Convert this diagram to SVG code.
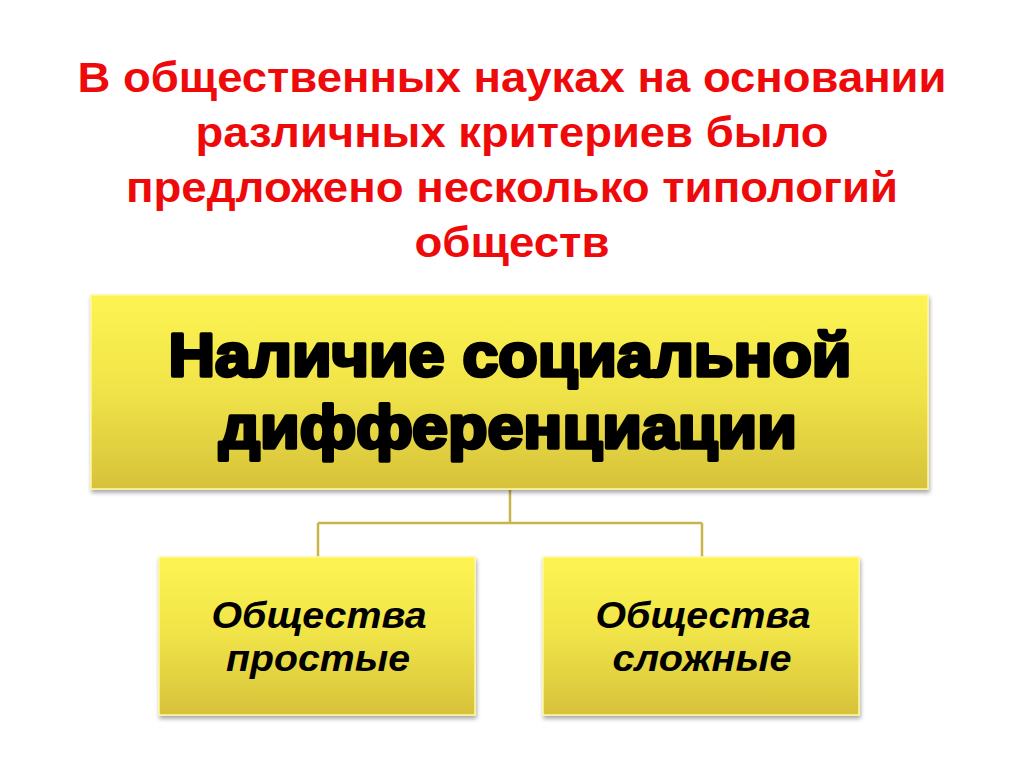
<svg xmlns="http://www.w3.org/2000/svg" width="1024" height="767" viewBox="0 0 1024 767">
  <defs>
    <linearGradient id="yel" x1="0" y1="0" x2="0" y2="1">
      <stop offset="0" stop-color="#fdf453"/>
      <stop offset="0.5" stop-color="#f0e348"/>
      <stop offset="1" stop-color="#d6c23a"/>
    </linearGradient>
    <filter id="sh" x="-5%" y="-5%" width="110%" height="115%">
      <feGaussianBlur in="SourceAlpha" stdDeviation="2"/>
      <feOffset dx="1" dy="3" result="b"/>
      <feComponentTransfer><feFuncA type="linear" slope="0.35"/></feComponentTransfer>
      <feMerge><feMergeNode/><feMergeNode in="SourceGraphic"/></feMerge>
    </filter>
  </defs>
  <style>
    .title { font-family: "Liberation Sans", Arial, sans-serif; font-weight: bold; font-size: 42px; fill: #ee0a0a; text-anchor: middle; }
    .box { fill: url(#yel); stroke: #fff7a0; stroke-width: 1.5; filter: url(#sh); }
    .main { font-family: "Liberation Sans", Arial, sans-serif; font-weight: bold; font-size: 61px; fill: #000; stroke: #000; stroke-width: 3.5; stroke-linejoin: round; text-anchor: middle; }
    .sub { font-family: "Liberation Sans", Arial, sans-serif; font-weight: bold; font-style: italic; font-size: 36px; fill: #000; text-anchor: middle; }
    .conn { fill: none; stroke: #c9b44a; stroke-width: 2.5; }
  </style>
  <rect width="1024" height="767" fill="#ffffff"/>
  <g id="title">
    <text class="title" x="512" y="92" textLength="869" lengthAdjust="spacingAndGlyphs">В общественных науках на основании</text>
    <text class="title" x="512" y="147" textLength="633" lengthAdjust="spacingAndGlyphs">различных критериев было</text>
    <text class="title" x="512" y="202" textLength="772" lengthAdjust="spacingAndGlyphs">предложено несколько типологий</text>
    <text class="title" x="512" y="257" textLength="195" lengthAdjust="spacingAndGlyphs">обществ</text>
  </g>
  <g id="connectors">
    <path class="conn" d="M510 490 V523 M318 523 H702 M318 523 V557 M702 523 V557"/>
  </g>
  <g id="node-main">
    <rect class="box" x="91" y="295" width="837" height="194"/>
    <text class="main" x="510" y="376" textLength="683" lengthAdjust="spacingAndGlyphs">Наличие социальной</text>
    <text class="main" x="508" y="448" textLength="578" lengthAdjust="spacingAndGlyphs">дифференциации</text>
  </g>
  <g id="node-simple">
    <rect class="box" x="159" y="557" width="316" height="158"/>
    <text class="sub" x="319" y="628" textLength="215" lengthAdjust="spacingAndGlyphs">Общества</text>
    <text class="sub" x="318" y="671" textLength="184" lengthAdjust="spacingAndGlyphs">простые</text>
  </g>
  <g id="node-complex">
    <rect class="box" x="543" y="557" width="316" height="158"/>
    <text class="sub" x="703" y="628" textLength="215" lengthAdjust="spacingAndGlyphs">Общества</text>
    <text class="sub" x="702" y="671" textLength="179" lengthAdjust="spacingAndGlyphs">сложные</text>
  </g>
</svg>
